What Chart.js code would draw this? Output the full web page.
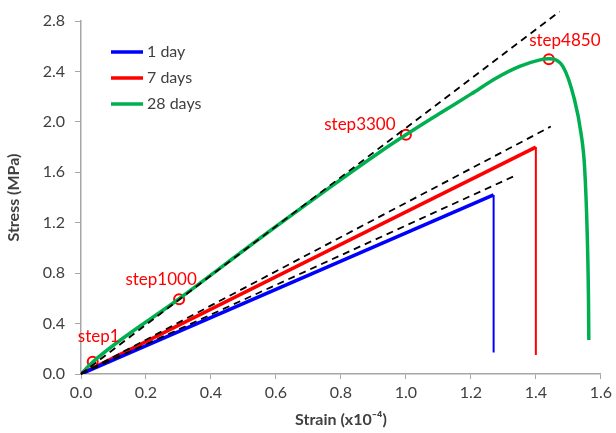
<!DOCTYPE html>
<html>
<head>
<meta charset="utf-8">
<script src="https://cdn.jsdelivr.net/npm/chart.js@4.4.0/dist/chart.umd.min.js"></script>
<style>
  body { margin: 0; background: #fff; }
</style>
</head>
<body>
<canvas id="myChart" width="616" height="433"></canvas>
<script>
// series (strain x10^-4, stress MPa)
const day1Strain = [0, 1.27, 1.27];
const day1Stress = [0, 1.42, 0.17];
const day7Strain = [0, 1.40, 1.40];
const day7Stress = [0, 1.80, 0.15];
const day28Strain = [0, 0.036, 0.3, 0.6, 0.917, 1.0, 1.1, 1.2, 1.28, 1.35, 1.41, 1.44, 1.483, 1.519, 1.539, 1.55, 1.558, 1.562, 1.563];
const day28Stress = [0, 0.095, 0.593, 1.17, 1.755, 1.897, 2.06, 2.22, 2.35, 2.44, 2.49, 2.5, 2.44, 2.175, 1.91, 1.64, 1.12, 0.59, 0.27];

// dashed tangent lines (start, end)
const tangent1Strain = [0, 1.33];
const tangent1Stress = [0, 1.566];
const tangent7Strain = [0, 1.446];
const tangent7Stress = [0, 1.963];
const tangent28Strain = [0, 1.473];
const tangent28Stress = [0, 2.875];

// marked steps on the 28 day curve
const stepLabels = ["step1", "step1000", "step3300", "step4850"];
const stepStrain = [0.036, 0.302, 1.0, 1.44];
const stepStress = [0.097, 0.593, 1.897, 2.497];

const seriesNames = ["1 day", "7 days", "28 days"];
const xTicks = [0, 0.2, 0.4, 0.6, 0.8, 1.0, 1.2, 1.4, 1.6];
const yTicks = [0, 0.4, 0.8, 1.2, 1.6, 2.0, 2.4, 2.8];

const BLUE = "#0000ff";
const RED = "#ff0000";
const GREEN = "#00b050";
const AXIS = "#a6a6a6";
const TEXT = "#404040";
const FONT = "Lato";

const toPoints = (xs, ys) => xs.map((v, i) => ({ x: v, y: ys[i] }));

// label offsets from their circle, in px: [dx, dy]
const labelOffsets = [[6, -25], [-18, -20], [-46, -10], [16, -19]];

const overlay = {
  id: "overlay",
  afterDatasetsDraw(chart) {
    const { ctx, chartArea, scales } = chart;
    ctx.save();
    ctx.font = "17px " + FONT;
    ctx.textBaseline = "middle";
    ctx.textAlign = "center";
    ctx.fillStyle = RED;
    stepLabels.forEach((t, i) => {
      const px = scales.x.getPixelForValue(stepStrain[i]) + labelOffsets[i][0];
      const py = scales.y.getPixelForValue(stepStress[i]) + labelOffsets[i][1];
      ctx.fillText(t, px, py);
    });

    // legend, top-left inside the plot
    const colors = [BLUE, RED, GREEN];
    ctx.font = "16px " + FONT;
    ctx.textAlign = "left";
    ctx.fillStyle = TEXT;
    seriesNames.forEach((name, i) => {
      const ly = chartArea.top + 31 + i * 26;
      const lx = chartArea.left + 30;
      ctx.strokeStyle = colors[i];
      ctx.lineWidth = 3.5;
      ctx.beginPath();
      ctx.moveTo(lx, ly);
      ctx.lineTo(lx + 32, ly);
      ctx.stroke();
      ctx.fillText(name, lx + 36, ly);
    });
    ctx.restore();
  },
};

// vertical drop after failure is drawn thinner
const dropWidth = (w) => (c) => (c.p0.parsed.x === c.p1.parsed.x ? 2 : w);

const dashed = (xs, ys) => ({
  data: toPoints(xs, ys),
  borderColor: "#000",
  borderWidth: 1.8,
  borderDash: [7, 5],
  pointRadius: 0,
  showLine: true,
  clip: false,
});

const ctx = document.getElementById("myChart").getContext("2d");
const chart = new Chart(ctx, {
  type: "scatter",
  data: {
    datasets: [
      dashed(tangent1Strain, tangent1Stress),
      dashed(tangent7Strain, tangent7Stress),
      dashed(tangent28Strain, tangent28Stress),
      {
        label: seriesNames[0],
        data: toPoints(day1Strain, day1Stress),
        borderColor: BLUE,
        borderWidth: 3.5,
        showLine: true,
        pointRadius: 0,
        segment: { borderWidth: dropWidth(3.5) },
      },
      {
        label: seriesNames[1],
        data: toPoints(day7Strain, day7Stress),
        borderColor: RED,
        borderWidth: 3.5,
        showLine: true,
        pointRadius: 0,
        segment: { borderWidth: dropWidth(3.5) },
      },
      {
        label: seriesNames[2],
        data: toPoints(day28Strain, day28Stress),
        borderColor: GREEN,
        borderWidth: 3.5,
        showLine: true,
        pointRadius: 0,
        cubicInterpolationMode: "monotone",
      },
      {
        data: toPoints(stepStrain, stepStress),
        showLine: false,
        pointRadius: 5,
        pointBorderWidth: 2,
        pointBorderColor: RED,
        pointBackgroundColor: "rgba(0,0,0,0)",
      },
    ],
  },
  options: {
    responsive: false,
    animation: false,
    layout: { padding: { top: 21, right: 13, left: 0, bottom: 0 } },
    plugins: { legend: { display: false }, tooltip: { enabled: false } },
    scales: {
      x: {
        type: "linear",
        min: 0,
        max: 1.6,
        afterBuildTicks: (s) => { s.ticks = xTicks.map((v) => ({ value: v })); },
        afterFit: (s) => { s.height = 59; },
        grid: { drawOnChartArea: false, color: AXIS, tickLength: 5 },
        border: { color: AXIS, width: 1.5 },
        ticks: {
          color: TEXT,
          font: { family: FONT, size: 16 },
          padding: 4,
          maxRotation: 0,
          callback: (v) => v.toFixed(1),
        },
        title: {
          display: true,
          text: "Strain (x10\u207B\u2074)",
          color: TEXT,
          font: { family: FONT, size: 16, weight: "bold" },
          padding: { top: 1 },
        },
      },
      y: {
        type: "linear",
        min: 0,
        max: 2.8,
        afterBuildTicks: (s) => { s.ticks = yTicks.map((v) => ({ value: v })); },
        afterFit: (s) => { s.width = 81; },
        grid: { drawOnChartArea: false, color: AXIS, tickLength: 6 },
        border: { color: AXIS, width: 1.5 },
        ticks: {
          color: TEXT,
          font: { family: FONT, size: 16 },
          padding: 10,
          callback: (v) => v.toFixed(1),
        },
        title: {
          display: true,
          text: "Stress (MPa)",
          color: TEXT,
          font: { family: FONT, size: 16, weight: "bold" },
          padding: { bottom: 2 },
        },
      },
    },
  },
  plugins: [overlay],
});
</script>
</body>
</html>
